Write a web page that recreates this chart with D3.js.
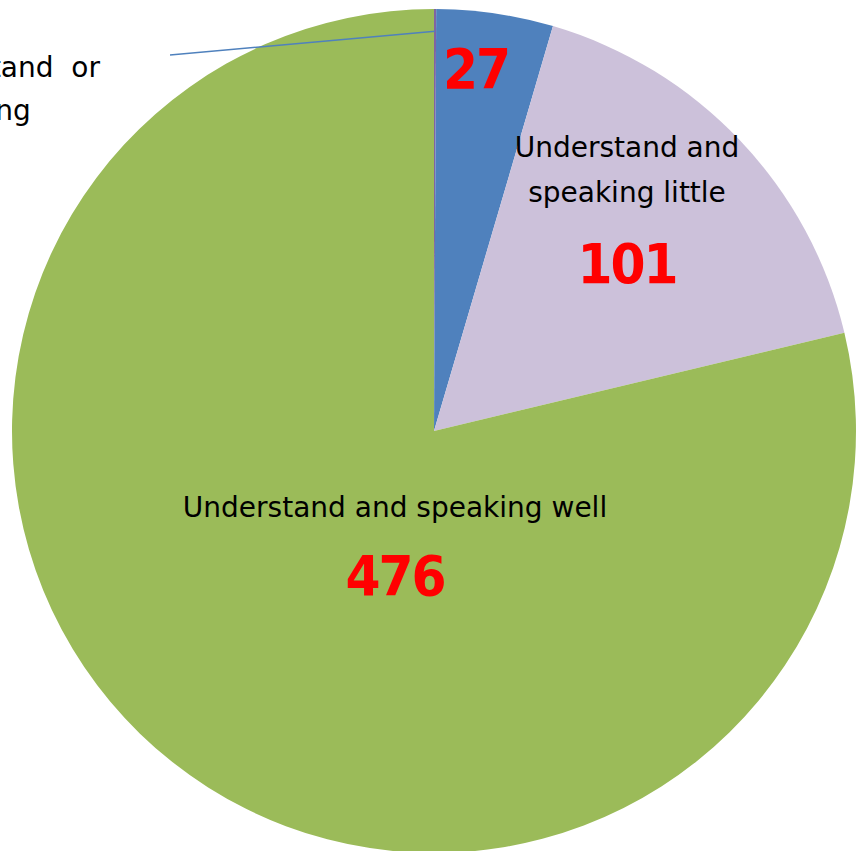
<!DOCTYPE html>
<html>
<head>
<meta charset="utf-8">
<script src="https://cdn.jsdelivr.net/npm/d3@7"></script>
<style>
  html, body { margin: 0; padding: 0; background: #fff; }
  svg { display: block; }
  text { font-family: "DejaVu Sans", sans-serif; }
  text.value { font-family: "DejaVu Sans Condensed", "DejaVu Sans", sans-serif; }
</style>
</head>
<body>
<div id="container"></div>
<script>

// Data (slices go clockwise from 12 o'clock).
const categories = [
  "Not understand or speaking",
  "Understand and speaking few",
  "Understand and speaking little",
  "Understand and speaking well"
];
const values = [0.5, 27, 101, 476];
const valueLabels = ["", "27", "101", "476"];
const colors = ["#8064a2", "#4f81bd", "#ccc1da", "#9bbb59"];

// Container size.
const width = 861;
const height = 851;

// Pie geometry.
const cx = 434;
const cy = 431;
const radius = 422;

const svg = d3.create("svg")
    .attr("width", width)
    .attr("height", height);

container.append(svg.node());

const pie = d3.pie()
    .sort(null)
    .value(d => d);

const arcs = pie(values);

const arc = d3.arc()
    .innerRadius(0)
    .outerRadius(radius);

const g = svg.append("g")
    .attr("transform", `translate(${cx},${cy})`);

// Slices
g.selectAll("path")
  .data(arcs)
  .join("path")
    .attr("d", arc)
    .attr("fill", (d, i) => colors[i]);

// Leader line for the tiny slice
const leaderArc = d3.arc().innerRadius(radius * 0.947).outerRadius(radius * 0.947);
const [lx, ly] = leaderArc.centroid(arcs[0]);
g.append("line")
    .attr("x1", lx)
    .attr("y1", ly)
    .attr("x2", -264)
    .attr("y2", -376)
    .attr("stroke", "#4f81bd")
    .attr("stroke-width", 1.5);

// Category labels (placed by hand, relative to the pie centre)
const nameLayout = [
  { lines: ["Not understand  or", "speaking"], x: -334, y: -354, dy: 43 },
  { lines: [], x: 0, y: 0, dy: 0 },
  { lines: ["Understand and", "speaking little"], x: 193, y: -274, dy: 45 },
  { lines: ["Understand and speaking well"], x: -39, y: 86, dy: 0 }
];
const numberLayout = [
  { x: 0, y: 0 },
  { x: 42, y: -343 },
  { x: 193, y: -148 },
  { x: -39, y: 164 }
];

nameLayout.forEach((lay, i) => {
  if (!lay.lines.length) return;
  const t = g.append("text")
      .attr("class", "name")
      .attr("text-anchor", "middle")
      .attr("font-size", 28)
      .attr("fill", "#000")
      .attr("x", lay.x)
      .attr("y", lay.y);
  lay.lines.forEach((line, j) => {
    t.append("tspan")
        .attr("x", lay.x)
        .attr("dy", j === 0 ? 0 : lay.dy)
        .attr("xml:space", "preserve")
        .text(line);
  });
});

// The cut-off label: its first line ends at lay.x, both lines centred
{
  const t = g.select("text.name");
  const tspans = t.selectAll("tspan").nodes();
  const w0 = tspans[0].getComputedTextLength();
  const xc = nameLayout[0].x - w0 / 2;
  tspans.forEach(n => n.setAttribute("x", xc));
}

// Value labels
g.selectAll("text.value")
  .data(arcs.filter((d, i) => valueLabels[i] !== ""))
  .join("text")
    .attr("class", "value")
    .attr("text-anchor", "middle")
    .attr("font-size", 56)
    .attr("font-weight", "bold")
    .attr("letter-spacing", -2)
    .attr("fill", "#ff0000")
    .attr("x", d => numberLayout[d.index].x)
    .attr("y", d => numberLayout[d.index].y)
    .text(d => valueLabels[d.index]);

</script>
</body>
</html>
